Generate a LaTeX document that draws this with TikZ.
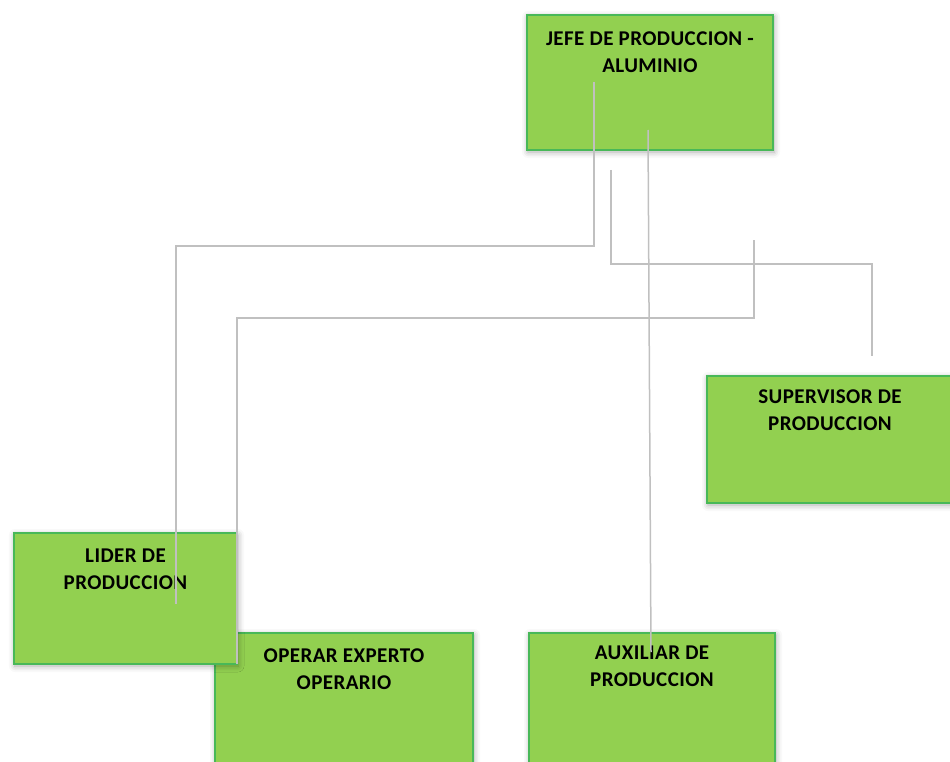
\documentclass[tikz,border=0pt]{standalone}
\usepackage{fontspec}
\setmainfont{Carlito}
\usetikzlibrary{shadows.blur}
\definecolor{boxfill}{RGB}{146,208,80}
\definecolor{boxline}{RGB}{72,184,88}
\definecolor{conn}{RGB}{192,192,192}
\tikzset{
  box/.style={draw=boxline, line width=1.6pt, fill=boxfill, inner sep=0pt,
    blur shadow={shadow xshift=1pt, shadow yshift=-2pt, shadow blur radius=6pt, shadow opacity=35}},
  lbl/.style={anchor=north, inner sep=0pt, align=center, font=\fontsize{21}{27}\selectfont\bfseries\addfontfeatures{LetterSpace=2}},
  conline/.style={draw=conn, line width=1.5pt}
}
\begin{document}
\begin{tikzpicture}[x=1pt,y=-1pt]
\useasboundingbox (0,0) rectangle (950,762);
% boxes
\node[box, minimum width=246pt, minimum height=135pt] (jefe) at (650,82.5) {};
\node[box, minimum width=246pt, minimum height=127pt] (sup) at (830,439.5) {};
\node[box, minimum width=258pt, minimum height=134pt] (oper) at (344,700) {};
\node[box, minimum width=223pt, minimum height=131pt] (lider) at (125.5,598.5) {};
\node[box, minimum width=246pt, minimum height=134pt] (aux) at (652,700) {};
% labels
\node[lbl] (jefet) at (650,31.5) {JEFE DE PRODUCCION -\\ALUMINIO};
\node[lbl] (supt) at (830,389.5) {SUPERVISOR DE\\PRODUCCION};
\node[lbl] (lidert) at (125.5,548.5) {LIDER DE\\PRODUCCION};
\node[lbl] (opert) at (344,648.5) {OPERAR EXPERTO\\OPERARIO};
\node[lbl] (auxt) at (652,645.5) {AUXILIAR DE\\PRODUCCION};
% connector ends
\coordinate (c1s) at (594,82);
\coordinate (c1e) at (176,604);
\coordinate (c1m) at (176,246);
\coordinate (c2s) at (611,170);
\coordinate (c2e) at (872,356);
\coordinate (c2m) at (872,264);
\coordinate (c3s) at (648,130);
\coordinate (c3e) at (651,652);
\coordinate (c4s) at (754,240);
\coordinate (c4e) at (237,664);
\coordinate (c4m) at (237,318);
% connectors
\draw[conline] (c1s) |- (c1m) -- (c1e);
\draw[conline] (c2s) |- (c2m) -- (c2e);
\draw[conline] (c3s) -- (c3e);
\draw[conline] (c4s) |- (c4m) -- (c4e);
\end{tikzpicture}
\end{document}
